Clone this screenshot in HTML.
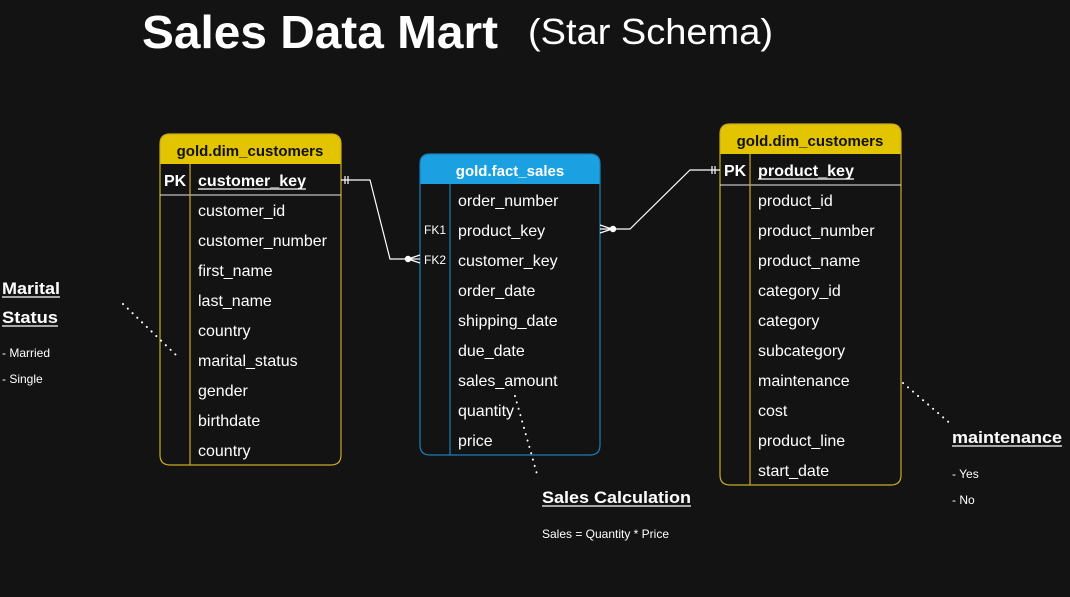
<!DOCTYPE html>
<html><head><meta charset="utf-8"><style>
html,body{margin:0;padding:0;background:#131313;}
svg{display:block;}
text{font-family:"Liberation Sans",Arial,sans-serif;}
</style></head><body>
<svg width="1070" height="597" viewBox="0 0 1070 597" xmlns="http://www.w3.org/2000/svg">
<rect width="1070" height="597" fill="#131313"/>
<text x="142" y="48" font-size="46" font-weight="bold" fill="#fff" textLength="356" lengthAdjust="spacingAndGlyphs">Sales Data Mart</text>
<text x="528" y="44" font-size="36" fill="#fff" textLength="245" lengthAdjust="spacingAndGlyphs">(Star Schema)</text>

<!-- Left table -->
<g>
<path d="M160,164 V144 Q160,134 170,134 H331 Q341,134 341,144 V164 Z" fill="#e3c400"/>
<path d="M160,164 V455 Q160,465 170,465 H331 Q341,465 341,455 V164" fill="none" stroke="#c9a924" stroke-width="1.2"/>
<path d="M160,164 V144 Q160,134 170,134 H331 Q341,134 341,144 V164" fill="none" stroke="#c9a924" stroke-width="1.2"/>
<line x1="160" y1="195" x2="341" y2="195" stroke="#e8e8e8" stroke-width="1"/>
<line x1="190" y1="164" x2="190" y2="465" stroke="#c9a924" stroke-width="1.2"/>
<text x="250" y="156" font-size="15" font-weight="bold" fill="#111" text-anchor="middle">gold.dim_customers</text>
<text x="164" y="186" font-size="16" font-weight="bold" fill="#fff">PK</text>
<text x="198" y="186" font-size="16" font-weight="bold" fill="#fff" textLength="108" lengthAdjust="spacingAndGlyphs">customer_key</text>
<line x1="198" y1="189" x2="306" y2="189" stroke="#fff" stroke-width="1.3"/>
<g font-size="16" fill="#fff">
<text x="198" y="216">customer_id</text>
<text x="198" y="246">customer_number</text>
<text x="198" y="276">first_name</text>
<text x="198" y="306">last_name</text>
<text x="198" y="336">country</text>
<text x="198" y="366">marital_status</text>
<text x="198" y="396">gender</text>
<text x="198" y="426">birthdate</text>
<text x="198" y="456">country</text>
</g>
</g>

<!-- Fact table -->
<g>
<path d="M420,184 V164 Q420,154 430,154 H590 Q600,154 600,164 V184 Z" fill="#1ba1e2"/>
<path d="M420,164 Q420,154 430,154 H590 Q600,154 600,164 V445 Q600,455 590,455 H430 Q420,455 420,445 Z" fill="none" stroke="#1a7fb8" stroke-width="1.2"/>
<line x1="450" y1="184" x2="450" y2="455" stroke="#1a7fb8" stroke-width="1.2"/>
<text x="510" y="176" font-size="15" font-weight="bold" fill="#fff" text-anchor="middle">gold.fact_sales</text>
<text x="424" y="234" font-size="12" fill="#fff">FK1</text>
<text x="424" y="264" font-size="12" fill="#fff">FK2</text>
<g font-size="16" fill="#fff">
<text x="458" y="206">order_number</text>
<text x="458" y="236">product_key</text>
<text x="458" y="266">customer_key</text>
<text x="458" y="296">order_date</text>
<text x="458" y="326">shipping_date</text>
<text x="458" y="356">due_date</text>
<text x="458" y="386">sales_amount</text>
<text x="458" y="416">quantity</text>
<text x="458" y="446">price</text>
</g>
</g>

<!-- Right table -->
<g>
<path d="M720,154 V134 Q720,124 730,124 H891 Q901,124 901,134 V154 Z" fill="#e3c400"/>
<path d="M720,134 Q720,124 730,124 H891 Q901,124 901,134 V475 Q901,485 891,485 H730 Q720,485 720,475 Z" fill="none" stroke="#c9a924" stroke-width="1.2"/>
<line x1="720" y1="185" x2="901" y2="185" stroke="#e8e8e8" stroke-width="1"/>
<line x1="750" y1="154" x2="750" y2="485" stroke="#c9a924" stroke-width="1.2"/>
<text x="810" y="146" font-size="15" font-weight="bold" fill="#111" text-anchor="middle">gold.dim_customers</text>
<text x="724" y="176" font-size="16" font-weight="bold" fill="#fff">PK</text>
<text x="758" y="176" font-size="16" font-weight="bold" fill="#fff" textLength="96" lengthAdjust="spacingAndGlyphs">product_key</text>
<line x1="758" y1="179" x2="854" y2="179" stroke="#fff" stroke-width="1.3"/>
<g font-size="16" fill="#fff">
<text x="758" y="206">product_id</text>
<text x="758" y="236">product_number</text>
<text x="758" y="266">product_name</text>
<text x="758" y="296">category_id</text>
<text x="758" y="326">category</text>
<text x="758" y="356">subcategory</text>
<text x="758" y="386">maintenance</text>
<text x="758" y="416">cost</text>
<text x="758" y="446">product_line</text>
<text x="758" y="476">start_date</text>
</g>
</g>

<!-- connectors -->
<g stroke="#fff" stroke-width="1.2" fill="none">
<polyline points="341,180 370,180 390,259 408,259"/>
<line x1="345" y1="176" x2="345" y2="184"/>
<line x1="348" y1="176" x2="348" y2="184"/>
<line x1="408" y1="259" x2="420" y2="255"/>
<line x1="408" y1="259" x2="420" y2="263"/>
<line x1="408" y1="259" x2="420" y2="259"/>
<polyline points="600,229 630,229 690,170 720,170"/>
<line x1="712" y1="166" x2="712" y2="174"/>
<line x1="715" y1="166" x2="715" y2="174"/>
<line x1="612" y1="229" x2="600" y2="225"/>
<line x1="612" y1="229" x2="600" y2="233"/>
</g>
<circle cx="408" cy="259" r="3.2" fill="#fff"/>
<circle cx="613" cy="229" r="3.2" fill="#fff"/>

<!-- dotted -->
<g stroke="#fff" stroke-width="2" stroke-dasharray="0.1 6.5" stroke-linecap="round" fill="none">
<line x1="123" y1="304" x2="176" y2="355"/>
<line x1="903" y1="383" x2="952" y2="425"/>
<line x1="515" y1="396" x2="537" y2="474"/>
</g>

<!-- notes -->
<g fill="#fff">
<text x="2" y="294" font-size="17" font-weight="bold" textLength="58" lengthAdjust="spacingAndGlyphs">Marital</text>
<line x1="2" y1="297" x2="60" y2="297" stroke="#fff" stroke-width="1.3"/>
<text x="2" y="323" font-size="17" font-weight="bold" textLength="56" lengthAdjust="spacingAndGlyphs">Status</text>
<line x1="2" y1="326" x2="58" y2="326" stroke="#fff" stroke-width="1.3"/>
<text x="2" y="357" font-size="12">- Married</text>
<text x="2" y="383" font-size="12">- Single</text>
<text x="542" y="503" font-size="17" font-weight="bold" textLength="149" lengthAdjust="spacingAndGlyphs">Sales Calculation</text>
<line x1="542" y1="506" x2="691" y2="506" stroke="#fff" stroke-width="1.3"/>
<text x="542" y="538" font-size="12" textLength="127" lengthAdjust="spacingAndGlyphs">Sales = Quantity * Price</text>
<text x="952" y="443" font-size="17" font-weight="bold" textLength="110" lengthAdjust="spacingAndGlyphs">maintenance</text>
<line x1="952" y1="446" x2="1062" y2="446" stroke="#fff" stroke-width="1.3"/>
<text x="952" y="478" font-size="12">- Yes</text>
<text x="952" y="504" font-size="12">- No</text>
</g>
</svg>
</body></html>
